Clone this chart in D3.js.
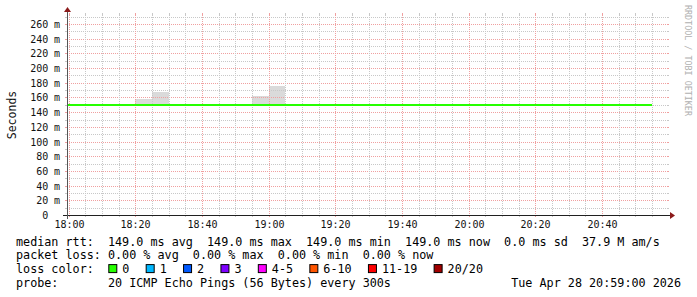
<!DOCTYPE html>
<html><head><meta charset="utf-8">
<script src="https://cdn.jsdelivr.net/npm/d3@7"></script>
<style>
body{margin:0;background:#fff}
text{font-family:"DejaVu Sans Mono",monospace;white-space:pre}
</style>
</head><body>
<svg id="c" width="697" height="297"></svg>
<script>
// ---------- data ----------
const binStarts = ["17:55","18:00","18:05","18:10","18:15","18:20","18:25","18:30","18:35","18:40","18:45","18:50",
  "18:55","19:00","19:05","19:10","19:15","19:20","19:25","19:30","19:35","19:40","19:45","19:50",
  "19:55","20:00","20:05","20:10","20:15","20:20","20:25","20:30","20:35","20:40","20:45","20:50"];
const binEnd = "20:55";
const medianRtt = [149,149,149,149,149,149,149,149,149,149,149,149,
  149,149,149,149,149,149,149,149,149,149,149,149,
  149,149,149,149,149,149,149,149,149,149,149,149];
const smokeMax = [149,149,149,149,149,158,167.5,149,149,149,149,149,
  162.2,175.6,149,149,149,149,149,149,149,149,149,149,
  149,149,149,149,149,149,149,149,149,149,149,149];
const yTickValues = [0,20,40,60,80,100,120,140,160,180,200,220,240,260];
const yUnit = "m";
const xTickLabels = ["18:00","18:20","18:40","19:00","19:20","19:40","20:00","20:20","20:40"];
const lossLabels = ["0","1","2","3","4-5","6-10","11-19","20/20"];
const lossColors = ["#26ff00","#00b8ff","#0059ff","#7e00ff","#ff00ff","#ff5500","#ff0000","#a10000"];
const legendRows = [
  "median rtt:  149.0 ms avg  149.0 ms max  149.0 ms min  149.0 ms now  0.0 ms sd  37.9 M am/s",
  "packet loss: 0.00 % avg  0.00 % max  0.00 % min  0.00 % now",
  "loss color:",
  "probe:       20 ICMP Echo Pings (56 Bytes) every 300s"
];
const stamp = "Tue Apr 28 20:59:00 2026";
const yTitle = "Seconds";
const watermark = "RRDTOOL / TOBI OETIKER";

// ---------- layout ----------
const X0 = 67, X1 = 667, Y0 = 215, Y1 = 15;
const parse = d3.timeParse("%H:%M");
const x = d3.scaleTime().domain([parse("18:00"), parse("21:00")]).range([69.333, 669.333]);
const y = d3.scaleLinear().domain([0, 272.26]).range([Y0, Y1]);
const px = v => Math.floor(x(v)) + 0.5;
const py = v => Math.round(y(v)) + 0.5;

const svg = d3.select("#c");
svg.append("rect").attr("width",697).attr("height",297).attr("fill","#fff");

const minorCol = "#c8c8c8", majorCol = "#f0a0a0";

// clip
svg.append("clipPath").attr("id","pc").append("rect")
  .attr("x",X0).attr("y",Y1).attr("width",X1-X0).attr("height",Y0-Y1);

// smoke
const bins = binStarts.map((s,i)=>({t0:parse(s), t1: parse(i+1<binStarts.length?binStarts[i+1]:binEnd), med:medianRtt[i], max:smokeMax[i]}));
const gp = svg.append("g").attr("clip-path","url(#pc)");
gp.selectAll("rect.smoke").data(bins.filter(d=>d.max>d.med)).join("rect")
  .attr("x",d=>Math.floor(x(d.t0))).attr("width",d=>Math.floor(x(d.t1))-Math.floor(x(d.t0)))
  .attr("y",d=>Math.round(y(d.max))).attr("height",d=>Math.round(y(d.med))-Math.round(y(d.max)))
  .attr("fill","#dadada");

// grid
const gg = svg.append("g");
const yMinor = d3.range(10, 280, 10);
yMinor.forEach(v=>{
  const major = yTickValues.includes(v);
  const c = major ? majorCol : minorCol;
  const yy = py(v);
  if (yy < Y1) return;
  gg.append("line").attr("x1",X0).attr("x2",X1).attr("y1",yy).attr("y2",yy).attr("stroke",c).attr("stroke-dasharray","1,1");
  gg.append("line").attr("x1",X0-2).attr("x2",X0).attr("y1",yy).attr("y2",yy).attr("stroke",c);
  gg.append("line").attr("x1",X1).attr("x2",X1+2).attr("y1",yy).attr("y2",yy).attr("stroke",c);
});
const majorTimes = xTickLabels.map(parse);
d3.timeMinute.every(5).range(parse("18:00"), parse("21:00")).forEach(t=>{
  const xx = px(t);
  if (xx > X1) return;
  const major = majorTimes.some(m=>+m===+t);
  const c = major ? majorCol : minorCol;
  gg.append("line").attr("x1",xx).attr("x2",xx).attr("y1",Y1).attr("y2",Y0).attr("stroke",c).attr("stroke-dasharray","1,1");
  gg.append("line").attr("x1",xx).attr("x2",xx).attr("y1",Y1-2).attr("y2",Y1).attr("stroke",c);
  gg.append("line").attr("x1",xx).attr("x2",xx).attr("y1",Y0).attr("y2",Y0+2).attr("stroke",c);
});

// median line
const linePts = bins.map(d=>({t:d.t0,v:d.med}));
linePts.push({t:parse(binEnd), v:medianRtt[medianRtt.length-1]});
svg.append("g").attr("clip-path","url(#pc)").append("path")
  .datum(linePts)
  .attr("d", d3.line().x(d=>Math.floor(x(d.t))).y(d=>y(d.v)-0.5).curve(d3.curveStepAfter))
  .attr("fill","none").attr("stroke","#26ff00").attr("stroke-width",2);

// axes
const axisCol = "#202020", arrowCol = "#8b1a1a";
svg.append("line").attr("x1",X0-4).attr("x2",X1+4).attr("y1",Y0+0.5).attr("y2",Y0+0.5).attr("stroke",axisCol);
svg.append("line").attr("x1",X0+0.5).attr("x2",X0+0.5).attr("y1",Y0+4).attr("y2",Y1-4).attr("stroke","#555");
svg.append("path").attr("d",`M${X1+3},${Y0-3}L${X1+3},${Y0+4}L${X1+8},${Y0+0.5}Z`).attr("fill",arrowCol);
svg.append("path").attr("d",`M${X0-3},${Y1-3}L${X0+4},${Y1-3}L${X0+0.5},${Y1-8}Z`).attr("fill",arrowCol);

// y labels
const gy = svg.append("g").attr("font-size","10px").attr("fill","#111");
yTickValues.forEach(v=>{
  const yy = py(v) + 3.6;
  gy.append("text").attr("x",48.3).attr("y",yy).attr("text-anchor","end").text(d3.format("d")(v));
  if (v !== 0) gy.append("text").attr("x",54).attr("y",yy).text(yUnit);
});
// x labels
const gx = svg.append("g").attr("font-size","10px").attr("fill","#111");
xTickLabels.forEach(l=>{
  gx.append("text").attr("x",px(parse(l))).attr("y",227.6).attr("text-anchor","middle").text(l);
});

// y title
svg.append("text").attr("transform",`translate(11.5,${(Y0+Y1)/2}) rotate(-90)`)
  .attr("text-anchor","middle").attr("dominant-baseline","central")
  .attr("font-size","11.5px").attr("fill","#111").text(yTitle);

// watermark
svg.append("text").attr("transform",`translate(687.5,5) rotate(90)`)
  .attr("dominant-baseline","central").attr("font-size","8.4px").attr("fill","#b0b0b0").text(watermark);

// legend
const LX = 16, base0 = 245.8, rowH = 13.65, fs = "11.75px";
const gl = svg.append("g").attr("font-size",fs).attr("fill","#000");
legendRows.forEach((r,i)=>{
  gl.append("text").attr("x",LX).attr("y",base0+i*rowH).text(r);
});
gl.append("text").attr("x",681).attr("y",base0+3*rowH).attr("text-anchor","end").text(stamp);
let lx = 108.3;
const ly = base0 + 2*rowH;
lossLabels.forEach((l,i)=>{
  gl.append("rect").attr("x",lx+0.5).attr("y",ly-8.5).attr("width",8).attr("height",8)
    .attr("fill",lossColors[i]).attr("stroke","#000").attr("stroke-width",1);
  const t = gl.append("text").attr("x",lx+14).attr("y",ly).text(l);
  lx += 14 + t.node().getComputedTextLength() + 16.3;
});
</script>
</body></html>
